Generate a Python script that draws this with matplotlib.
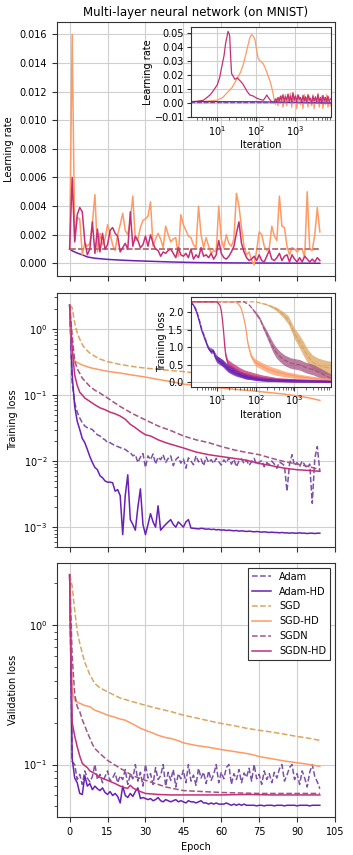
import numpy as np
import matplotlib
matplotlib.use('Agg')
import matplotlib.pyplot as plt
from matplotlib.ticker import MultipleLocator, LogLocator, NullFormatter

# ---------------- data ----------------
names = ['Adam', 'Adam-HD', 'SGD', 'SGD-HD', 'SGDN', 'SGDN-HD']
colors = {'Adam': '#7b52a8', 'Adam-HD': '#6a1fb5', 'SGD': '#dba560',
          'SGD-HD': '#fe9a63', 'SGDN': '#a45481', 'SGDN-HD': '#c42f78'}
styles = {'Adam': '--', 'Adam-HD': '-', 'SGD': '--', 'SGD-HD': '-', 'SGDN': '--', 'SGDN-HD': '-'}

epochs = list(range(100))

# --- learning rate vs epoch ---
lr_const_epochs = [0, 99]
lr_adam = [0.001, 0.001]
lr_sgd = [0.001, 0.001]
lr_sgdn = [0.001, 0.001]
lr_adamhd_epochs = [0, 1, 2, 3, 5, 7, 10, 15, 20, 25, 30, 40, 50, 60, 70, 80, 90, 99]
lr_adamhd = [0.001, 0.00088, 0.0008, 0.00072, 0.0006, 0.00045, 0.00036, 0.00028, 0.00023, 0.00019,
             0.00016, 0.0001, 0.00006, 0.00004, 0.00003, 0.00002, 0.000015, 0.00001]
lr_sgdhd = [0.001, 0.016, 0.0016, 0.0032, 0.0031, 0.0006, 0.0014, 0.0012, 0.0014, 0.0028,
            0.0048, 0.0008, 0.0021, 0.0013, 0.0017, 0.0027, 0.0021, 0.0013, 0.0009, 0.0020,
            0.0027, 0.0035, 0.0023, 0.0020, 0.0030, 0.0047, 0.0016, 0.0017, 0.0025, 0.0030,
            0.0031, 0.0033, 0.0043, 0.0012, 0.0017, 0.0021, 0.0017, 0.0011, 0.0026, 0.0020,
            0.0015, 0.0017, 0.0018, 0.0005, 0.0034, 0.0027, 0.0023, 0.0019, 0.0018, 0.0013,
            0.0011, 0.0040, 0.0020, 0.0011, 0.0018, 0.0012, 0.0007, 0.0009, 0.0008, 0.0040,
            0.0017, 0.0011, 0.0020, 0.0014, 0.0012, 0.0017, 0.0049, 0.0040, 0.0025, 0.0012,
            0.0006, 0.0008, 0.0002, -0.0001, 0.0009, 0.0022, 0.0020, 0.0012, 0.0009, 0.0011,
            0.0026, 0.0019, 0.0016, 0.0047, 0.0026, 0.0025, 0.0012, 0.0006, 0.0011, 0.0010,
            0.0008, 0.0010, 0.0010, 0.0004, 0.0050, 0.0010, 0.0009, 0.0020, 0.0039, 0.0022]
lr_sgdnhd = [0.001, 0.006, 0.0015, 0.0034, 0.0039, 0.0036, 0.0015, 0.0006, 0.0010, 0.0029,
             0.0007, 0.0024, 0.0008, 0.0021, 0.0010, 0.0013, 0.0023, 0.0025, 0.0021, 0.0019,
             0.0008, 0.0011, 0.0014, 0.0010, 0.0036, 0.0012, 0.0019, 0.0016, 0.0011, 0.0013,
             0.0019, 0.0012, 0.0020, 0.0014, 0.0010, 0.0009, 0.0005, 0.0008, 0.0007, 0.0009,
             0.0010, 0.0007, 0.0004, 0.0011, 0.0006, 0.0005, 0.0007, 0.0004, 0.0010, 0.0003,
             0.0006, 0.0004, 0.0011, 0.0005, 0.0006, 0.0004, 0.0007, 0.0003, 0.0006, 0.0016,
             0.0007, 0.0004, 0.0003, 0.0005, 0.0008, 0.0012, 0.0021, 0.0029, 0.0014, 0.0008,
             0.0004, 0.0002, 0.0003, 0.0005, 0.0002, 0.0006, 0.0002, 0.0001, 0.0005, 0.0009,
             0.0003, 0.0002, 0.0004, 0.0007, 0.0002, 0.0005, 0.0006, 0.0001, 0.0006, 0.0003,
             0.0001, 0.0004, 0.0001, 0.0005, 0.0003, 0.0001, 0.0003, 0.0001, 0.0004, 0.0002]

# --- training loss vs epoch ---
tr_adam = [2.3, 0.15, 0.076, 0.055, 0.045, 0.038, 0.034, 0.032, 0.031, 0.030,
           0.027, 0.025, 0.024, 0.022, 0.021, 0.019, 0.019, 0.018, 0.017, 0.0166,
           0.016, 0.0155, 0.0150, 0.0140, 0.0135, 0.012, 0.0125, 0.0095, 0.0115, 0.0130,
           0.0080, 0.0120, 0.0105, 0.0128, 0.0090, 0.0115, 0.0105, 0.0125, 0.0095, 0.0110,
           0.0120, 0.0085, 0.0105, 0.0115, 0.0093, 0.0108, 0.0078, 0.0112, 0.0100, 0.0088,
           0.0120, 0.0097, 0.0108, 0.0085, 0.0115, 0.0095, 0.0105, 0.0092, 0.0110, 0.0098,
           0.0087, 0.0104, 0.0094, 0.0112, 0.0090, 0.0106, 0.0082, 0.0100, 0.0108, 0.0092,
           0.0103, 0.0086, 0.0098, 0.0110, 0.0088, 0.0096, 0.0102, 0.0082, 0.0095, 0.0088,
           0.0100, 0.0090, 0.0078, 0.0096, 0.0092, 0.0085, 0.0035, 0.0090, 0.0125, 0.0085,
           0.0095, 0.0082, 0.0100, 0.0088, 0.0078, 0.0090, 0.0023, 0.0110, 0.0166, 0.0070]
tr_adamhd = [2.3, 0.2, 0.067, 0.040, 0.030, 0.022, 0.019, 0.0150, 0.0117, 0.0095,
             0.0080, 0.0074, 0.0060, 0.0056, 0.0050, 0.0048, 0.0048, 0.0047, 0.0035, 0.0037,
             0.0030, 0.00077, 0.0030, 0.0062, 0.0013, 0.0011, 0.0009, 0.0020, 0.0038, 0.0011,
             0.00077, 0.0011, 0.0016, 0.0012, 0.0010, 0.0021, 0.0009, 0.0010, 0.0011, 0.0012,
             0.0013, 0.0011, 0.0010, 0.0012, 0.0011, 0.0010, 0.0012, 0.0013, 0.00097, 0.00096,
             0.00095, 0.00094, 0.00096, 0.00095, 0.00093, 0.00094, 0.00092, 0.00093, 0.00091, 0.00092,
             0.00090, 0.00091, 0.00089, 0.00090, 0.00089, 0.00088, 0.00089, 0.00087, 0.00088, 0.00087,
             0.00086, 0.00087, 0.00086, 0.00085, 0.00086, 0.00085, 0.00084, 0.00085, 0.00084, 0.00083,
             0.00084, 0.00083, 0.00083, 0.00082, 0.00083, 0.00082, 0.00082, 0.00081, 0.00082, 0.00081,
             0.00081, 0.00082, 0.00081, 0.00081, 0.00080, 0.00081, 0.00081, 0.00080, 0.00081, 0.00081]
tr_sgd_epochs = [0, 1, 2, 3, 4, 5, 6, 8, 10, 12, 15, 20, 25, 30, 35, 40, 45, 50, 60, 70, 80, 90, 99]
tr_sgd = [2.3, 2.08, 1.23, 0.87, 0.7, 0.58, 0.51, 0.43, 0.385, 0.35, 0.32, 0.29, 0.27, 0.255,
          0.245, 0.235, 0.226, 0.215, 0.195, 0.18, 0.165, 0.152, 0.14]
tr_sgdhd_epochs = [0, 1, 2, 3, 5, 8, 10, 15, 20, 25, 30, 35, 40, 45, 50, 55, 60, 65, 70, 75, 80, 85, 90, 95, 99]
tr_sgdhd = [2.3, 0.42, 0.33, 0.31, 0.285, 0.26, 0.25, 0.228, 0.215, 0.2, 0.187, 0.172, 0.16, 0.146,
            0.14, 0.133, 0.128, 0.122, 0.118, 0.113, 0.108, 0.103, 0.097, 0.09, 0.083]
tr_sgdn_epochs = [0, 1, 2, 3, 5, 8, 10, 12, 15, 20, 25, 30, 35, 40, 45, 50, 55, 60, 65, 70, 75, 80, 85, 90, 95, 99]
tr_sgdn = [2.3, 0.8, 0.33, 0.25, 0.18, 0.135, 0.118, 0.107, 0.09, 0.067, 0.052, 0.042, 0.034,
           0.029, 0.024, 0.021, 0.019, 0.0166, 0.0148, 0.0135, 0.0125, 0.011, 0.0098, 0.009, 0.0082, 0.0074]
tr_sgdnhd_epochs = [0, 1, 2, 3, 4, 5, 6, 8, 10, 12, 14, 16, 18, 20, 22, 24, 26, 28, 30, 32, 35, 38, 40,
                    45, 50, 55, 60, 65, 70, 75, 80, 85, 90, 95, 99]
tr_sgdnhd = [2.3, 0.5, 0.2, 0.14, 0.11, 0.1, 0.09, 0.08, 0.071, 0.064, 0.06, 0.055, 0.052, 0.048,
             0.043, 0.036, 0.032, 0.028, 0.025, 0.024, 0.021, 0.019, 0.018, 0.0158, 0.0137, 0.0125,
             0.0117, 0.011, 0.0103, 0.0092, 0.0085, 0.0078, 0.0074, 0.0072, 0.007]

# --- validation loss vs epoch ---
va_adam = [2.3, 0.105, 0.1, 0.078, 0.085, 0.072, 0.09, 0.08, 0.075, 0.082,
           0.1, 0.078, 0.085, 0.074, 0.082, 0.09, 0.076, 0.08, 0.087, 0.074,
           0.083, 0.078, 0.092, 0.072, 0.085, 0.079, 0.1, 0.076, 0.088, 0.07,
           0.1, 0.08, 0.086, 0.072, 0.095, 0.078, 0.083, 0.1, 0.07, 0.088,
           0.077, 0.092, 0.069, 0.086, 0.079, 0.091, 0.074, 0.1, 0.076, 0.084,
           0.071, 0.094, 0.08, 0.088, 0.073, 0.09, 0.077, 0.085, 0.1, 0.074,
           0.088, 0.079, 0.095, 0.1, 0.072, 0.086, 0.078, 0.092, 0.074, 0.087,
           0.081, 0.094, 0.076, 0.1, 0.079, 0.085, 0.072, 0.09, 0.078, 0.086,
           0.074, 0.088, 0.08, 0.093, 0.1, 0.076, 0.084, 0.095, 0.1, 0.078,
           0.086, 0.072, 0.09, 0.08, 0.069, 0.088, 0.1, 0.082, 0.075, 0.067]
va_adamhd = [2.3, 0.11, 0.08, 0.074, 0.062, 0.061, 0.083, 0.07, 0.073, 0.066,
             0.07, 0.067, 0.065, 0.068, 0.063, 0.061, 0.064, 0.06, 0.062, 0.059,
             0.053, 0.07, 0.06, 0.058, 0.062, 0.059, 0.064, 0.068, 0.057, 0.058,
             0.057, 0.056, 0.057, 0.055, 0.056, 0.058, 0.055, 0.054, 0.056, 0.055,
             0.054, 0.055, 0.056, 0.054, 0.055, 0.054, 0.053, 0.055, 0.054, 0.054,
             0.053, 0.054, 0.055, 0.053, 0.053, 0.052, 0.053, 0.052, 0.053, 0.052,
             0.052, 0.052, 0.053, 0.052, 0.051, 0.052, 0.051, 0.052, 0.051, 0.052,
             0.051, 0.051, 0.051, 0.051, 0.0505, 0.051, 0.051, 0.0505, 0.051, 0.051,
             0.051, 0.0505, 0.051, 0.051, 0.051, 0.0505, 0.051, 0.051, 0.051, 0.051,
             0.0505, 0.051, 0.051, 0.051, 0.051, 0.0505, 0.051, 0.051, 0.051, 0.051]
va_sgd_epochs = [0, 1, 2, 3, 4, 5, 6, 8, 10, 12, 15, 20, 25, 30, 35, 40, 45, 50, 55, 60, 65, 70, 75, 80, 85, 90, 95, 99]
va_sgd = [2.3, 1.9, 1.28, 0.9, 0.74, 0.63, 0.54, 0.44, 0.38, 0.355, 0.332, 0.3, 0.282, 0.266, 0.252,
          0.24, 0.226, 0.216, 0.206, 0.197, 0.19, 0.182, 0.176, 0.171, 0.165, 0.159, 0.154, 0.149]
va_sgdhd_epochs = [0, 1, 2, 3, 4, 5, 6, 8, 10, 12, 15, 18, 20, 22, 25, 28, 30, 33, 35, 38, 40, 43, 45,
                   50, 55, 60, 65, 70, 73, 75, 80, 85, 90, 95, 99]
va_sgdhd = [2.3, 0.33, 0.29, 0.28, 0.275, 0.27, 0.265, 0.26, 0.245, 0.238, 0.226, 0.218, 0.212, 0.208,
            0.195, 0.182, 0.176, 0.168, 0.162, 0.156, 0.154, 0.148, 0.143, 0.137, 0.133, 0.128, 0.124,
            0.12, 0.117, 0.114, 0.11, 0.106, 0.103, 0.1, 0.097]
va_sgdn_epochs = [0, 1, 2, 3, 4, 5, 7, 9, 10, 12, 15, 20, 25, 30, 35, 38, 45, 60, 75, 99]
va_sgdn = [2.3, 0.6, 0.32, 0.26, 0.24, 0.21, 0.17, 0.14, 0.13, 0.12, 0.107, 0.094, 0.083, 0.077,
           0.072, 0.069, 0.065, 0.063, 0.062, 0.062]
va_sgdnhd_epochs = [0, 1, 2, 3, 4, 5, 6, 7, 8, 10, 12, 15, 18, 20, 22, 23, 24, 25, 27, 30, 35, 40,
                    50, 60, 70, 80, 90, 99]
va_sgdnhd = [2.3, 0.2, 0.16, 0.134, 0.115, 0.102, 0.098, 0.095, 0.09, 0.086, 0.081, 0.077, 0.073,
             0.07, 0.068, 0.0675, 0.071, 0.068, 0.065, 0.062, 0.061, 0.0605, 0.0605, 0.0605, 0.061,
             0.0605, 0.0605, 0.0605]

# --- inset: learning rate vs iteration ---
it_lr_const = [2, 8700]
lr_it_const = [0.001, 0.001]
it_lr_adamhd = [2, 100, 1000, 8700]
lr_it_adamhd = [0.001, 0.0009, 0.0004, 0.00001]
it_lr_sgdnhd = [2, 2.4, 3, 4.4, 6.5, 8, 10, 11.5, 13, 15, 16.5, 18, 19, 20, 21, 22, 23.5, 26, 28.6, 33,
                38.6, 45, 52, 60, 70, 85, 104, 130, 155, 175, 190, 220, 256]
lr_it_sgdnhd = [0.001, 0.001, 0.0012, 0.002, 0.0057, 0.009, 0.013, 0.018, 0.0256, 0.034, 0.043, 0.048,
                0.0513, 0.05, 0.048, 0.035, 0.021, 0.019, 0.017, 0.018, 0.016, 0.014, 0.011, 0.008,
                0.0057, 0.005, 0.0035, 0.0025, 0.002, 0.004, 0.0057, 0.003, 0.0007]
it_lr_sgdhd = [2, 5, 10, 14, 17.5, 24, 32, 40, 47, 55, 63, 70, 77, 85, 94, 104, 114, 130, 155, 180,
               209, 235, 256, 280]
lr_it_sgdhd = [0.001, 0.0012, 0.002, 0.004, 0.007, 0.011, 0.017, 0.022, 0.0275, 0.035, 0.042, 0.047,
               0.049, 0.048, 0.0455, 0.038, 0.032, 0.03, 0.028, 0.024, 0.019, 0.015, 0.011, 0.006]
it_tail = [300, 320, 345, 370, 400, 430, 460, 500, 540, 580, 625, 675, 725, 780, 840, 905, 975, 1050,
           1130, 1220, 1310, 1410, 1520, 1640, 1770, 1900, 2050, 2210, 2380, 2560, 2760, 2970, 3200,
           3450, 3720, 4000, 4310, 4640, 5000, 5390, 5800, 6250, 6730, 7250, 7800, 8400]
lr_tail_sgdnhd = [0.0007, 0.003, 0.001, 0.004, 0.0015, 0.005, 0.002, 0.006, 0.001, 0.0045, 0.002,
                  0.0065, 0.0015, 0.005, 0.0005, 0.0075, 0.002, 0.005, 0.001, 0.006, 0.0025, 0.004,
                  0.0005, 0.0055, 0.0015, 0.0045, 0.0005, 0.006, 0.002, 0.0035, 0.0, 0.005, 0.0015,
                  0.0045, 0.0005, 0.006, 0.001, 0.004, 0.0, 0.0055, 0.0015, 0.004, 0.0005, 0.005,
                  0.001, 0.003]
lr_tail_sgdhd = [0.001, -0.001, 0.003, -0.002, 0.004, 0.0, 0.005, -0.003, 0.002, 0.006, -0.002, 0.003,
                 0.0, 0.007, -0.003, 0.004, 0.001, 0.006, -0.004, 0.002, 0.005, -0.001, 0.003, -0.004,
                 0.006, 0.0, 0.004, -0.003, 0.005, 0.001, -0.002, 0.006, -0.004, 0.003, 0.0, 0.007,
                 -0.003, 0.002, 0.005, -0.004, 0.004, -0.001, 0.006, -0.003, 0.002, -0.002]

# --- inset: training loss vs iteration (mean and noise half-width) ---
it_tl_adamhd = [2, 2.5, 3, 3.5, 4, 5, 6, 7, 8, 9, 10, 12, 14, 17, 20, 25, 32, 40, 57, 80, 125, 200,
                400, 1000, 3000, 8700]
tl_adamhd = [2.3, 2.2, 2.0, 1.75, 1.5, 1.2, 0.97, 0.87, 0.9, 0.72, 0.66, 0.6, 0.55, 0.45, 0.38, 0.32,
             0.26, 0.22, 0.16, 0.13, 0.09, 0.07, 0.06, 0.05, 0.035, 0.02]
tl_adamhd_sp = [0, 0, 0, 0, 0, 0.02, 0.03, 0.05, 0.05, 0.08, 0.1, 0.1, 0.1, 0.1, 0.1, 0.1, 0.09, 0.08,
                0.07, 0.06, 0.05, 0.05, 0.04, 0.04, 0.03, 0.03]
it_tl_adam = [2, 2.5, 3, 3.5, 4, 5, 6, 8, 10, 14, 20, 32, 57, 125, 400, 1000, 8700]
tl_adam = [2.3, 2.22, 2.05, 1.8, 1.55, 1.25, 1.0, 0.9, 0.68, 0.56, 0.4, 0.28, 0.17, 0.1, 0.065, 0.05, 0.025]
tl_adam_sp = [0, 0, 0, 0, 0, 0.02, 0.03, 0.05, 0.08, 0.09, 0.09, 0.08, 0.07, 0.05, 0.04, 0.04, 0.03]
it_tl_sgdnhd = [2, 10, 12, 13, 14, 15, 16, 17, 19, 21, 24, 30, 39, 50, 86, 150, 340, 1000, 3000, 8700]
tl_sgdnhd = [2.3, 2.3, 2.2, 2.04, 1.75, 1.4, 1.0, 0.75, 0.55, 0.5, 0.45, 0.38, 0.3, 0.25, 0.18, 0.13,
             0.08, 0.05, 0.04, 0.03]
tl_sgdnhd_sp = [0, 0, 0, 0, 0, 0, 0.05, 0.08, 0.1, 0.12, 0.12, 0.12, 0.12, 0.11, 0.1, 0.08, 0.06,
                0.05, 0.04, 0.03]
it_tl_sgdhd = [2, 30, 35, 41, 47, 55, 63, 70, 77, 90, 105, 130, 155, 220, 340, 600, 1370, 3000, 8700]
tl_sgdhd = [2.3, 2.3, 2.25, 2.15, 1.95, 1.6, 1.12, 0.9, 0.75, 0.62, 0.55, 0.5, 0.45, 0.37, 0.3, 0.23,
            0.16, 0.11, 0.07]
tl_sgdhd_sp = [0, 0, 0, 0, 0, 0, 0.03, 0.05, 0.06, 0.08, 0.1, 0.1, 0.1, 0.1, 0.1, 0.08, 0.07, 0.06, 0.05]
it_tl_sgdn = [2, 50, 70, 105, 130, 155, 190, 230, 280, 340, 440, 560, 800, 1370, 2000, 3100, 5000, 8700]
tl_sgdn = [2.3, 2.3, 2.2, 1.95, 1.8, 1.6, 1.4, 1.2, 1.0, 0.85, 0.72, 0.63, 0.55, 0.5, 0.42, 0.36, 0.25, 0.12]
tl_sgdn_sp = [0, 0, 0, 0.05, 0.05, 0.07, 0.1, 0.12, 0.14, 0.15, 0.15, 0.15, 0.15, 0.15, 0.15, 0.15,
              0.14, 0.12]
it_tl_sgd = [2, 100, 200, 340, 500, 700, 1000, 1300, 1650, 2200, 2950, 4000, 5400, 8700]
tl_sgd = [2.3, 2.3, 2.22, 2.1, 1.95, 1.78, 1.4, 1.2, 1.0, 0.75, 0.58, 0.5, 0.45, 0.4]
tl_sgd_sp = [0, 0, 0.02, 0.05, 0.08, 0.12, 0.15, 0.18, 0.2, 0.2, 0.2, 0.2, 0.2, 0.2]

# ---------------- drawing ----------------
plt.rcParams['font.family'] = ['DejaVu Sans']
plt.rcParams['font.size'] = 7
plt.rcParams['axes.edgecolor'] = '#333333'
plt.rcParams['axes.linewidth'] = 0.8
plt.rcParams['xtick.color'] = '#333333'
plt.rcParams['ytick.color'] = '#333333'
plt.rcParams['xtick.labelcolor'] = 'black'
plt.rcParams['ytick.labelcolor'] = 'black'

fig = plt.figure(figsize=(3.53, 8.55), dpi=100)
L, W, H = 0.1615, 0.7875, 0.2971
ax1 = fig.add_axes([L, 0.6772, W, H])
ax2 = fig.add_axes([L, 0.3602, W, H])
ax3 = fig.add_axes([L, 0.0444, W, H])

LW = 1.1
grid_kw = dict(color='#cfcfcf', linewidth=0.8)

def line(ax, x, y, name, lw=LW, **kw):
    ax.plot(x, y, styles[name], color=colors[name], lw=lw, label=name, **kw)

# panel 1
line(ax1, lr_const_epochs, lr_adam, 'Adam')
line(ax1, lr_adamhd_epochs, lr_adamhd, 'Adam-HD')
line(ax1, lr_const_epochs, lr_sgd, 'SGD')
line(ax1, epochs, lr_sgdhd, 'SGD-HD')
line(ax1, lr_const_epochs, lr_sgdn, 'SGDN', alpha=0.6)
line(ax1, epochs, lr_sgdnhd, 'SGDN-HD')
ax1.set_ylim(-0.00088, 0.01686)
ax1.yaxis.set_major_locator(MultipleLocator(0.002))
ax1.set_ylabel('Learning rate')
ax1.set_title('Multi-layer neural network (on MNIST)', fontsize=8.5, pad=4)

# panel 2
line(ax2, epochs, tr_adam, 'Adam')
line(ax2, epochs, tr_adamhd, 'Adam-HD')
line(ax2, tr_sgd_epochs, tr_sgd, 'SGD')
line(ax2, tr_sgdhd_epochs, tr_sgdhd, 'SGD-HD')
line(ax2, tr_sgdn_epochs, tr_sgdn, 'SGDN')
line(ax2, tr_sgdnhd_epochs, tr_sgdnhd, 'SGDN-HD')
ax2.set_yscale('log')
ax2.set_ylim(5.0e-4, 3.5)
ax2.set_ylabel('Training loss')

# panel 3
line(ax3, epochs, va_adam, 'Adam')
line(ax3, epochs, va_adamhd, 'Adam-HD')
line(ax3, va_sgd_epochs, va_sgd, 'SGD')
line(ax3, va_sgdhd_epochs, va_sgdhd, 'SGD-HD')
line(ax3, va_sgdn_epochs, va_sgdn, 'SGDN')
line(ax3, va_sgdnhd_epochs, va_sgdnhd, 'SGDN-HD')
ax3.set_yscale('log')
ax3.set_ylim(0.042, 2.79)
ax3.set_ylabel('Validation loss')
ax3.set_xlabel('Epoch')
leg = ax3.legend(loc='upper right', fontsize=7, fancybox=False, framealpha=1, edgecolor='#333333')
leg.get_frame().set_linewidth(0.8)

for ax in (ax1, ax2, ax3):
    ax.set_xlim(-5, 105)
    ax.xaxis.set_major_locator(MultipleLocator(15))
    ax.grid(True, which='major', **grid_kw)
    ax.set_axisbelow(True)
    ax.tick_params(labelsize=7, length=3.5, width=0.8)
    ax.tick_params(which='minor', length=2, width=0.6)
for ax in (ax1, ax2):
    ax.tick_params(labelbottom=False)

# inset 1: learning rate vs iteration
ins1 = fig.add_axes([0.5411, 0.8632, 0.3966, 0.1053])
ins1.plot(it_lr_const, lr_it_const, '--', color=colors['SGD'], lw=0.9)
ins1.plot(it_lr_const, lr_it_const, '--', color=colors['SGDN'], lw=0.9, alpha=0.6)
ins1.plot(it_lr_sgdhd + it_tail, lr_it_sgdhd + lr_tail_sgdhd, '-', color=colors['SGD-HD'], lw=0.9)
ins1.plot(it_lr_sgdnhd + it_tail, lr_it_sgdnhd + lr_tail_sgdnhd, '-', color=colors['SGDN-HD'], lw=0.9)
ins1.plot(it_lr_adamhd, lr_it_adamhd, '-', color=colors['Adam-HD'], lw=0.9)
ins1.plot(it_lr_const, lr_it_const, '--', color=colors['Adam'], lw=0.9)
ins1.set_xscale('log')
ins1.set_xlim(2.1, 8700)
ins1.set_ylim(-0.01, 0.0545)
ins1.yaxis.set_major_locator(MultipleLocator(0.01))
ins1.set_xlabel('Iteration', fontsize=7, labelpad=2)
ins1.set_ylabel('Learning rate', fontsize=7, labelpad=1)

# inset 2: training loss vs iteration
ins2 = fig.add_axes([0.5402, 0.5477, 0.3966, 0.1046])
def band(ax, it, m, sp, name, alpha=0.75):
    m = np.array(m); sp = np.array(sp)
    ax.fill_between(it, m - sp, m + sp, color=colors[name], alpha=alpha, lw=0)
    ax.plot(it, m, styles[name], color=colors[name], lw=0.9)
band(ins2, it_tl_sgd, tl_sgd, tl_sgd_sp, 'SGD')
band(ins2, it_tl_sgdn, tl_sgdn, tl_sgdn_sp, 'SGDN')
band(ins2, it_tl_sgdhd, tl_sgdhd, tl_sgdhd_sp, 'SGD-HD')
band(ins2, it_tl_sgdnhd, tl_sgdnhd, tl_sgdnhd_sp, 'SGDN-HD')
band(ins2, it_tl_adam, tl_adam, tl_adam_sp, 'Adam')
band(ins2, it_tl_adamhd, tl_adamhd, tl_adamhd_sp, 'Adam-HD')
ins2.set_xscale('log')
ins2.set_xlim(2.1, 8700)
ins2.set_ylim(-0.126, 2.43)
ins2.yaxis.set_major_locator(MultipleLocator(0.5))
ins2.set_xlabel('Iteration', fontsize=7, labelpad=2)
ins2.set_ylabel('Training loss', fontsize=7, labelpad=1)

for ax in (ins1, ins2):
    ax.set_facecolor('white')
    ax.grid(True, which='major', **grid_kw)
    ax.set_axisbelow(True)
    ax.xaxis.set_major_locator(LogLocator(base=10, numticks=10))
    ax.xaxis.set_minor_locator(LogLocator(base=10, subs=np.arange(2, 10), numticks=20))
    ax.xaxis.set_minor_formatter(NullFormatter())
    ax.tick_params(labelsize=7, length=3, width=0.8, pad=2)
    ax.tick_params(which='minor', length=1.8, width=0.5)

fig.savefig('out.png', dpi=100)
